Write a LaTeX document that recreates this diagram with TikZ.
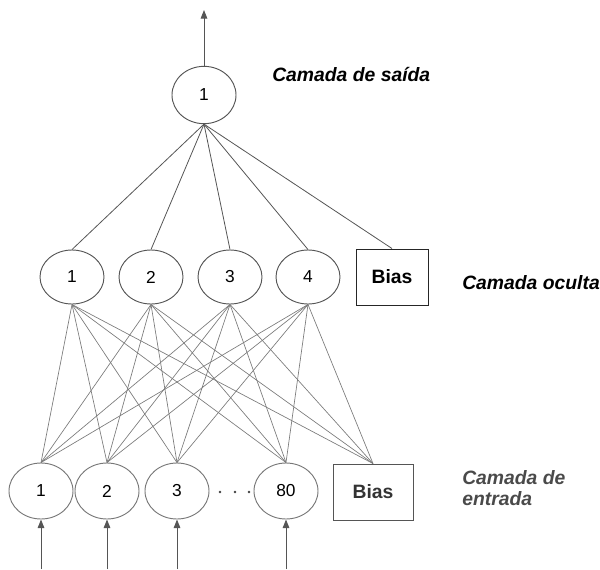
\documentclass[tikz,border=0pt]{standalone}
\usepackage{fontspec}
\setmainfont{Liberation Sans}
\usetikzlibrary{shapes.geometric,arrows.meta}
\definecolor{edge}{HTML}{555555}
\definecolor{thin}{HTML}{7A7A7A}
\definecolor{labgray}{HTML}{4A4A4A}
\tikzset{
  neuron/.style={ellipse,draw=edge,line width=0.7pt,inner sep=0pt,minimum width=48pt,minimum height=42pt,font=\fontsize{13}{15}\selectfont},
  biasbox/.style={rectangle,draw=black!85,line width=0.7pt,inner sep=0pt,minimum height=42pt,font=\bfseries\fontsize{14.5}{16}\selectfont},
  outlink/.style={draw=edge,line width=0.6pt},
  inlink/.style={draw=thin,line width=0.5pt},
  inarrow/.style={draw=edge,line width=0.7pt,-{Triangle[length=6.5pt,width=5pt]}},
  layerlab/.style={anchor=west,font=\bfseries\itshape\fontsize{14.5}{15.75}\selectfont,align=left,inner sep=0pt}
}
\begin{document}
\begin{tikzpicture}[x=0.75pt,y=-0.75pt]
\useasboundingbox (0,0) rectangle (600,569);
% output layer
\node[neuron,minimum height=43pt] (o) at (204,95) {1};
\coordinate (otop) at (204,10);
\draw[inarrow] (o.north) -- (otop);
% hidden layer
\node[neuron,minimum height=40.5pt] (h1) at (72,277) {1};
\node[neuron,minimum height=40.5pt] (h2) at (151,277) {2};
\node[neuron,minimum height=40.5pt] (h3) at (230,277) {3};
\node[neuron,minimum height=40.5pt] (h4) at (308,277) {4};
\node[biasbox,minimum width=54pt] (hb) at (392,277) {Bias};
% input layer
\node[neuron,draw=edge!80] (i1) at (41,491) {1};
\node[neuron,draw=edge!80] (i2) at (107,491) {2};
\node[neuron,draw=edge!80] (i3) at (177,491) {3};
\node[neuron,draw=edge!80] (i4) at (286,491) {80};
\node[biasbox,minimum width=60pt,draw=edge,text=black!80] (ib) at (373,492) {Bias};
\foreach \x in {220,235,249} \fill[black!75] (\x,492) circle (1.4);
% output connections
\foreach \h in {h1,h2,h3,h4,hb} \draw[outlink] (o.south) -- (\h.north);
% input-hidden connections
\foreach \i in {i1,i2,i3,i4,ib}
  \foreach \h in {h1,h2,h3,h4}
    \draw[inlink] (\i.north) -- (\h.south);
% input arrows
\coordinate (a1) at (41,569);
\coordinate (a2) at (107,569);
\coordinate (a3) at (177,569);
\coordinate (a4) at (286,569);
\draw[inarrow] (a1) -- (i1.south);
\draw[inarrow] (a2) -- (i2.south);
\draw[inarrow] (a3) -- (i3.south);
\draw[inarrow] (a4) -- (i4.south);
% labels
\node[layerlab] (l1) at (272,75) {Camada de saída};
\node[layerlab] (l2) at (462,283) {Camada oculta};
\node[layerlab,text=labgray] (l3) at (462,488) {Camada de\\entrada};
\end{tikzpicture}
\end{document}
